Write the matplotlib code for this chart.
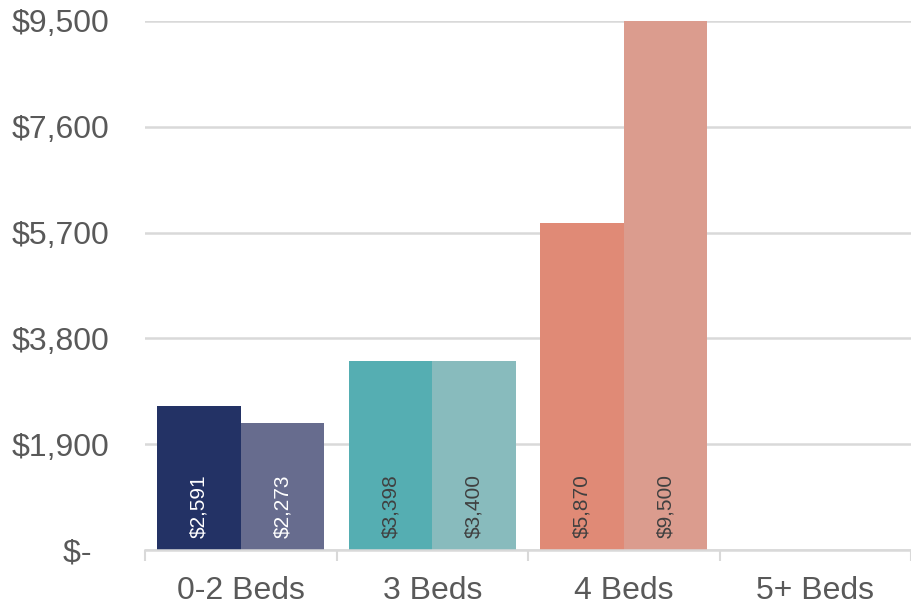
import numpy as np
import matplotlib.pyplot as plt

# Dados
categorias = ["0-2 Beds", "3 Beds", "4 Beds", "5+ Beds"]
serie_a = [2591, 3398, 5870]
serie_b = [2273, 3400, 9500]
cores_a = ["#233265", "#55AEB2", "#E08A76"]
cores_b = ["#676C8E", "#88BBBD", "#DB9C8E"]
cor_rotulo = ["white", "#404040", "#404040"]
yticks = [0, 1900, 3800, 5700, 7600, 9500]

plt.rcParams['font.family'] = ['Liberation Sans', 'DejaVu Sans']

fig = plt.figure(figsize=(9.11, 6.07), dpi=100)
ax = fig.add_axes([145 / 911, 57 / 607, 1 - 145 / 911, 529 / 607])

largura = 0.435
x = np.arange(len(serie_a))
barras_a = ax.bar(x - largura / 2, serie_a, largura, color=cores_a, zorder=3)
barras_b = ax.bar(x + largura / 2, serie_b, largura, color=cores_b, zorder=3)

# Rótulos dentro das barras
for barras in (barras_a, barras_b):
    for i, b in enumerate(barras):
        ax.annotate(f"${b.get_height():,.0f}", xy=(b.get_x() + b.get_width() / 2, 0),
                    xytext=(0, 9), textcoords="offset points", rotation=90,
                    ha="center", va="bottom", fontsize=15, color=cor_rotulo[i], zorder=4)

ax.set_xlim(-0.5, 3.47)
ax.set_ylim(0, 9500)
ax.set_yticks(yticks)
ax.set_yticklabels(["$-  " if v == 0 else f"${v:,}" for v in yticks])
ax.set_xticks(range(len(categorias)))
ax.set_xticklabels(categorias)
ax.set_xticks(np.arange(-0.5, 3.6, 1), minor=True)

ax.tick_params(axis="y", length=0, pad=26, labelsize=23, labelcolor="#595959")
ax.tick_params(axis="x", which="major", length=0, pad=19, labelsize=23, labelcolor="#595959")
ax.tick_params(axis="x", which="minor", length=8, width=1.5, color="#D9D9D9")

ax.grid(axis="y", color="#D9D9D9", linewidth=1.8, zorder=0)
for lado in ["top", "right", "left"]:
    ax.spines[lado].set_visible(False)
ax.spines["bottom"].set_color("#D9D9D9")
ax.spines["bottom"].set_linewidth(1.8)
ax.spines["bottom"].set_zorder(5)

fig.savefig("out.png", dpi=100)
